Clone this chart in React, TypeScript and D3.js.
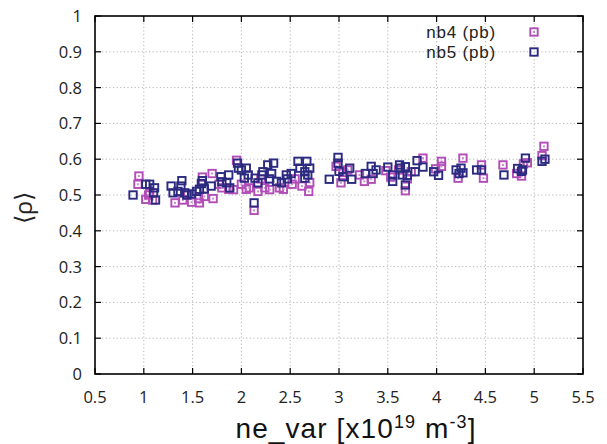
import React from 'react';
import * as d3 from 'd3';

const width = 607;
const height = 444;
const margin = { top: 16, right: 24, bottom: 70, left: 95 };

const xTicks = [0.5, 1, 1.5, 2, 2.5, 3, 3.5, 4, 4.5, 5, 5.5];
const yTicks = [0, 0.1, 0.2, 0.3, 0.4, 0.5, 0.6, 0.7, 0.8, 0.9, 1];

const seriesNames = ['nb4 (pb)', 'nb5 (pb)'];
const seriesColors = ['#b24db8', '#2b2a80'];

// nb4 (pb) [x, <rho>]
const nb4Points: [number, number][] = [
  [0.95, 0.553], [0.94, 0.53], [1.02, 0.488], [1.09, 0.486], [1.06, 0.505],
  [1.32, 0.478], [1.4, 0.486], [1.49, 0.48], [1.57, 0.478], [1.56, 0.49],
  [1.62, 0.496], [1.6, 0.55], [1.7, 0.56], [1.71, 0.49], [1.77, 0.53],
  [1.8, 0.52], [1.87, 0.516], [1.95, 0.597], [1.92, 0.515], [2.05, 0.516],
  [2.08, 0.52], [2.17, 0.51], [2.13, 0.457], [2.24, 0.52], [2.29, 0.515],
  [2.39, 0.52], [2.43, 0.516], [2.52, 0.53], [2.62, 0.525], [2.69, 0.51],
  [2.7, 0.535], [2.97, 0.58], [3.02, 0.534], [3.04, 0.563], [3.09, 0.57],
  [3.21, 0.556], [3.26, 0.538], [3.33, 0.544], [3.48, 0.568], [3.53, 0.55],
  [3.61, 0.57], [3.68, 0.512], [3.74, 0.565], [3.86, 0.603], [3.99, 0.573],
  [4.05, 0.594], [4.05, 0.58], [4.27, 0.603], [4.22, 0.547], [4.46, 0.584],
  [4.48, 0.547], [4.68, 0.584], [4.82, 0.56], [4.87, 0.553], [4.89, 0.587],
  [4.93, 0.59], [5.08, 0.61], [5.1, 0.636], [2.2, 0.545], [2.0, 0.53],
  [3.7, 0.545], [1.45, 0.5], [1.05, 0.5], [2.55, 0.545]
];

// nb5 (pb) [x, <rho>]
const nb5Points: [number, number][] = [
  [0.89, 0.5], [1.02, 0.53], [1.06, 0.53], [1.11, 0.52], [1.1, 0.506],
  [1.12, 0.486], [1.28, 0.525], [1.39, 0.54], [1.38, 0.525], [1.3, 0.506],
  [1.35, 0.51], [1.42, 0.506], [1.44, 0.5], [1.49, 0.503], [1.54, 0.51],
  [1.59, 0.532], [1.57, 0.516], [1.6, 0.54], [1.62, 0.517], [1.69, 0.525],
  [1.79, 0.551], [1.8, 0.537], [1.85, 0.534], [1.87, 0.556], [1.88, 0.52],
  [1.96, 0.589], [1.97, 0.575], [2.0, 0.57], [2.05, 0.575], [2.03, 0.547],
  [2.07, 0.556], [2.13, 0.478], [2.14, 0.547], [2.17, 0.534], [2.21, 0.556],
  [2.22, 0.565], [2.27, 0.584], [2.33, 0.589], [2.31, 0.56], [2.29, 0.545],
  [2.36, 0.538], [2.41, 0.534], [2.46, 0.556], [2.47, 0.545], [2.51, 0.56],
  [2.58, 0.594], [2.6, 0.575], [2.65, 0.565], [2.68, 0.556], [2.65, 0.547],
  [2.67, 0.594], [2.7, 0.575], [2.9, 0.544], [2.99, 0.605], [2.99, 0.589],
  [3.0, 0.566], [3.04, 0.551], [3.11, 0.575], [3.13, 0.544], [3.27, 0.56],
  [3.33, 0.58], [3.35, 0.56], [3.38, 0.57], [3.5, 0.578], [3.55, 0.538],
  [3.55, 0.556], [3.62, 0.584], [3.63, 0.575], [3.68, 0.528], [3.65, 0.556],
  [3.68, 0.579], [3.7, 0.555], [3.8, 0.596], [3.78, 0.565], [3.86, 0.578],
  [3.97, 0.565], [4.02, 0.555], [4.2, 0.57], [4.23, 0.56], [4.25, 0.575],
  [4.27, 0.562], [4.41, 0.57], [4.46, 0.57], [4.69, 0.556], [4.83, 0.574],
  [4.87, 0.566], [4.88, 0.57], [4.91, 0.603], [5.08, 0.594], [5.11, 0.6]
];

const x = d3.scaleLinear().domain([0.5, 5.5]).range([margin.left, width - margin.right]);
const y = d3.scaleLinear().domain([0, 1]).range([height - margin.bottom, margin.top]);

const font = '"Open Sans", "Liberation Sans", sans-serif';
const arial = '"Liberation Sans", Arial, sans-serif';
const ms = 7.4;

const Marker = ({ cx, cy, i }: { cx: number; cy: number; i: number }) => (
  <g>
    <rect x={cx - ms / 2} y={cy - ms / 2} width={ms} height={ms} fill="none"
      stroke={seriesColors[i]} strokeWidth={1.9} />
    {i === 0 && <rect x={cx - 1} y={cy - 1} width={2} height={2} fill="#c98fd0" />}
  </g>
);

export default function App() {
  const [x0, x1] = x.range();
  const [y0, y1] = y.range();
  return (
    <svg width={width} height={height} style={{ position: 'absolute', left: 0, top: 0, background: '#fff' }}
      fontFamily={font}>
      {/* grid */}
      {xTicks.slice(1, -1).map(t => (
        <line key={'gx' + t} x1={x(t)} x2={x(t)} y1={y1} y2={y0} stroke="#b5b5b5" strokeDasharray="1.2,2.4" />
      ))}
      {yTicks.slice(1, -1).map(t => (
        <line key={'gy' + t} x1={x0} x2={x1} y1={y(t)} y2={y(t)} stroke="#b5b5b5" strokeDasharray="1.2,2.4" />
      ))}
      {/* ticks on all four sides, pointing in */}
      {xTicks.map(t => (
        <g key={'tx' + t}>
          <line x1={x(t)} x2={x(t)} y1={y0} y2={y0 - 6} stroke="#000" strokeWidth={1.2} />
          <line x1={x(t)} x2={x(t)} y1={y1} y2={y1 + 6} stroke="#000" strokeWidth={1.2} />
          <text x={x(t)} y={y0 + 29} textAnchor="middle" fontSize={16.5} fill="#222">{t}</text>
        </g>
      ))}
      {yTicks.map(t => (
        <g key={'ty' + t}>
          <line x1={x0} x2={x0 + 6} y1={y(t)} y2={y(t)} stroke="#000" strokeWidth={1.2} />
          <line x1={x1} x2={x1 - 6} y1={y(t)} y2={y(t)} stroke="#000" strokeWidth={1.2} />
          <text x={x0 - 13} y={y(t) + 6} textAnchor="end" fontSize={16.5} fill="#222">{t}</text>
        </g>
      ))}
      {/* points */}
      {nb4Points.map((d, k) => <Marker key={'a' + k} cx={x(d[0])} cy={y(d[1])} i={0} />)}
      {nb5Points.map((d, k) => <Marker key={'b' + k} cx={x(d[0])} cy={y(d[1])} i={1} />)}
      {/* frame */}
      <rect x={x0} y={y1} width={x1 - x0} height={y0 - y1} fill="none" stroke="#000" strokeWidth={1.6} />
      {/* legend */}
      {seriesNames.map((s, i) => (
        <g key={s}>
          <text x={496} y={38 + i * 20} textAnchor="end" fontSize={17} letterSpacing={0.8}
            fontFamily={arial} fill="#222">{s}</text>
          <Marker cx={534} cy={32 + i * 20} i={i} />
        </g>
      ))}
      {/* axis titles */}
      <text x={356} y={438} textAnchor="middle" fontSize={28} letterSpacing={1.1} fontFamily={arial} fill="#111">
        ne_var [x10<tspan dy={-10} fontSize={18}>19</tspan><tspan dy={10}> m</tspan>
        <tspan dy={-10} fontSize={18}>-3</tspan><tspan dy={10}>]</tspan>
      </text>
      <text transform="translate(32,208) rotate(-90)" textAnchor="middle" fontSize={24} fill="#222">⟨ρ⟩</text>
    </svg>
  );
}
